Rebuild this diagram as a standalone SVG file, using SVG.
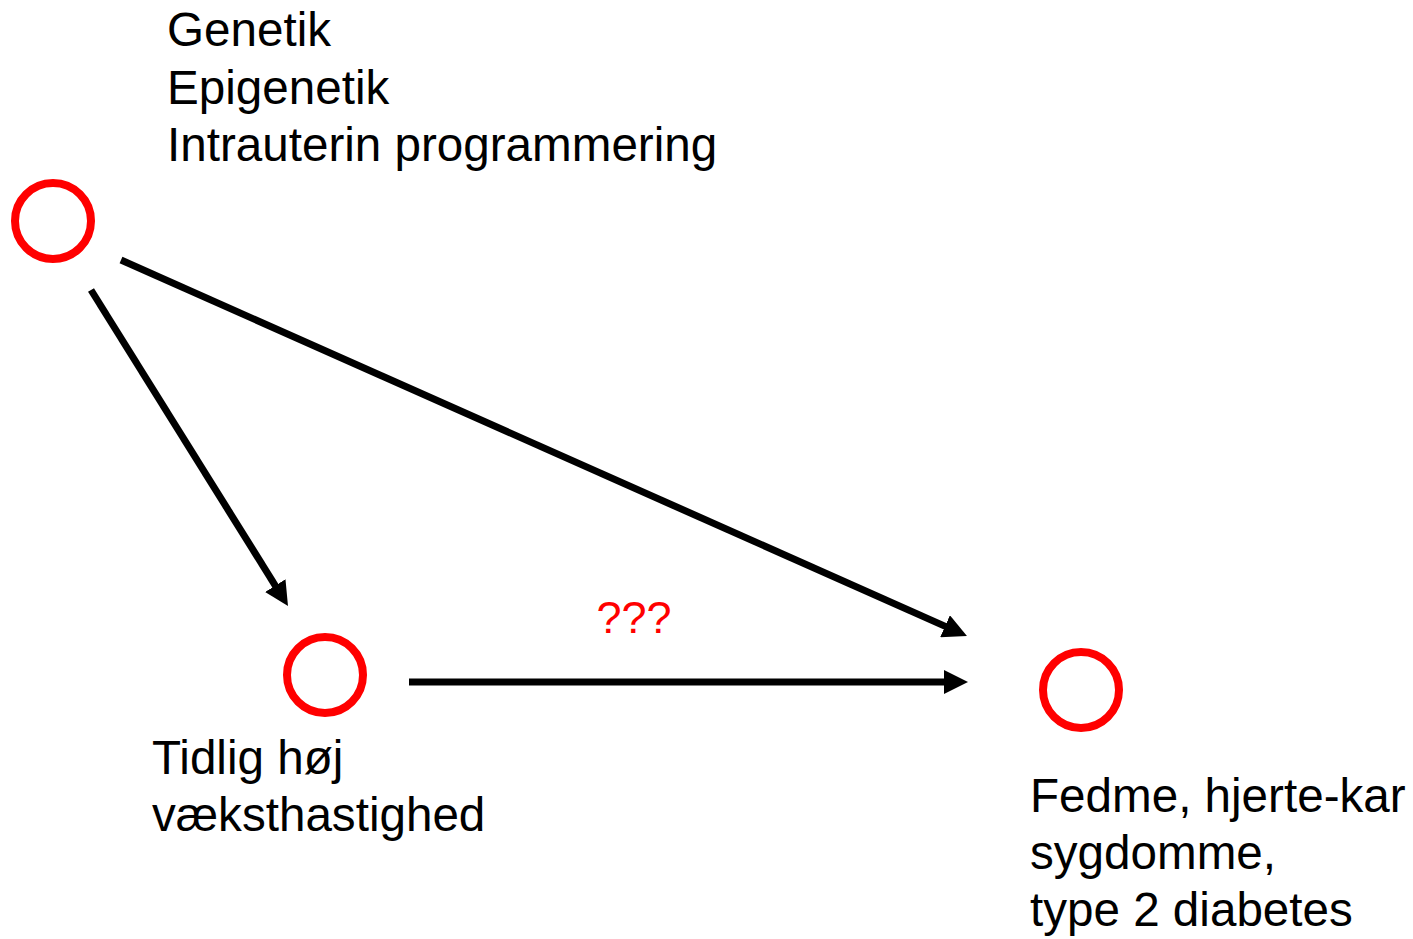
<svg xmlns="http://www.w3.org/2000/svg" width="1413" height="939" viewBox="0 0 1413 939">
<style>
.node circle{fill:none;stroke:#FF0000;stroke-width:8}
.lbl{font-family:"Liberation Sans",Arial,sans-serif;font-size:47.6px;fill:#000}
.q{font-family:"Liberation Sans",Arial,sans-serif;font-size:45px;fill:#FF0000}
.conn line{stroke:#000;stroke-width:7;marker-end:url(#ah)}
</style>
<defs>
<marker id="ah" viewBox="0 0 10 10" refX="5" refY="5" markerWidth="24" markerHeight="24" markerUnits="userSpaceOnUse" orient="auto">
<path d="M0,0 L10,5 L0,10 z" fill="#000"/>
</marker>
</defs>
<rect width="1413" height="939" fill="#fff"/>
<g id="node-cause" class="node">
<circle cx="53" cy="221" r="38"/>
<text class="lbl" x="167" y="46">Genetik</text>
<text class="lbl" x="167" y="104">Epigenetik</text>
<text class="lbl" x="167" y="161">Intrauterin programmering</text>
</g>
<g id="node-growth" class="node">
<circle cx="325" cy="675" r="38"/>
<text class="lbl" x="152" y="774">Tidlig høj</text>
<text class="lbl" x="152" y="831">væksthastighed</text>
</g>
<g id="node-outcome" class="node">
<circle cx="1081" cy="690" r="38"/>
<text class="lbl" x="1030" y="812">Fedme, hjerte-kar</text>
<text class="lbl" x="1030" y="869">sygdomme,</text>
<text class="lbl" x="1030" y="926">type 2 diabetes</text>
</g>
<g id="connectors" class="conn">
<line x1="121" y1="260" x2="956" y2="631.1"/>
<line x1="91" y1="290" x2="281.65" y2="595.8"/>
<line x1="409" y1="682" x2="956" y2="682"/>
<text class="q" x="634" y="633" text-anchor="middle">???</text>
</g>
</svg>
